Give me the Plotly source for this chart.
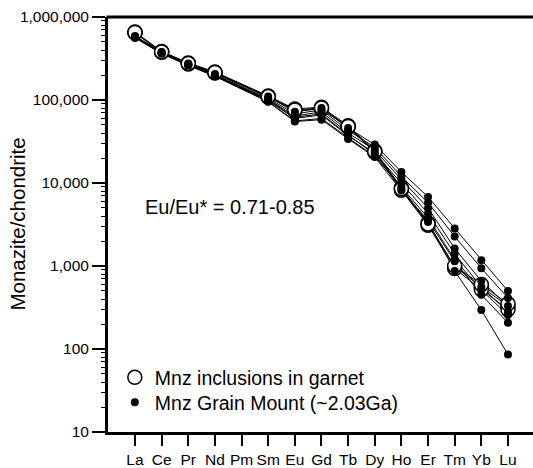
import plotly.graph_objects as go

# Rare earth elements, chondrite-normalised (Pm has no analysis)
elements = ["La", "Ce", "Pr", "Nd", "Pm", "Sm", "Eu", "Gd", "Tb", "Dy", "Ho", "Er", "Tm", "Yb", "Lu"]

# Monazite inclusions in garnet
inc_1 = [660000, 385000, 280000, 218000, None, 112000, 78000, 82000, 49000, 24500, 8800, 3300, 980, 560, 330]
inc_2 = [640000, 375000, 272000, 212000, None, 108000, 74000, 78000, 47000, 23500, 8200, 3100, 930, 520, 300]
inc_3 = [650000, 380000, 276000, 215000, None, 110000, 76000, 80000, 48000, 24000, 8500, 3200, 1000, 600, 350]

# Monazite grain mount (~2.03 Ga)
gm_1 = [590000, 380000, 275000, 205000, None, 110000, 72000, 80000, 46000, 29000, 13600, 6800, 2830, 1170, 500]
gm_2 = [580000, 375000, 272000, 200000, None, 105000, 68000, 76000, 43000, 27000, 12000, 5800, 2270, 940, 412]
gm_3 = [575000, 370000, 268000, 198000, None, 102000, 64000, 72000, 40000, 25000, 11000, 5000, 1630, 658, 330]
gm_4 = [570000, 368000, 265000, 196000, None, 98000, 60000, 66000, 37000, 23000, 10000, 4300, 1400, 560, 280]
gm_5 = [565000, 365000, 262000, 195000, None, 96000, 56000, 60000, 35000, 21000, 9000, 3800, 1200, 513, 257]
gm_6 = [560000, 362000, 260000, 193000, None, 95000, 55000, 58000, 34000, 20500, 8100, 3550, 1140, 450, 207]
gm_7 = [570000, 368000, 266000, 197000, None, 100000, 62000, 68000, 38000, 22000, 8500, 3400, 870, 295, 86]

inclusions = [inc_1, inc_2, inc_3]
grain_mount = [gm_1, gm_2, gm_3, gm_4, gm_5, gm_6, gm_7]

y_ticks = [10, 100, 1000, 10000, 100000, 1000000]
y_tick_text = ["10", "100", "1,000", "10,000", "100,000", "1,000,000"]
# minor log ticks (2..9 within each decade)
y_minor = [d * k for d in y_ticks[:-1] for k in range(2, 10)]

FONT = "Liberation Sans, Arial, Helvetica, sans-serif"
pos = list(range(len(elements)))

fig = go.Figure()

# connecting lines for every analysis (Pm gap bridged)
for series in inclusions + grain_mount:
    fig.add_trace(go.Scatter(
        x=pos, y=series, mode="lines", connectgaps=True,
        line=dict(color="black", width=1), showlegend=False, hoverinfo="skip"))


def flatten(group):
    xs, ys = [], []
    for series in group:
        for i, v in enumerate(series):
            if v is not None:
                xs.append(i)
                ys.append(v)
    return xs, ys


xi, yi = flatten(inclusions)
fig.add_trace(go.Scatter(
    x=xi, y=yi, mode="markers", name="Mnz inclusions in garnet", legend="legend",
    marker=dict(symbol="circle", size=14, color="white",
                line=dict(color="black", width=1.5))))

xg, yg = flatten(grain_mount)
fig.add_trace(go.Scatter(
    x=xg, y=yg, mode="markers", name="Mnz Grain Mount (~2.03Ga)", legend="legend2",
    marker=dict(symbol="circle", size=8, color="black",
                line=dict(color="black", width=0))))

legend_style = dict(xanchor="left", yanchor="middle", bgcolor="rgba(0,0,0,0)",
                    font=dict(size=19.5, family=FONT), itemsizing="trace")

fig.update_layout(
    width=533, height=468,
    margin=dict(l=108, r=0, t=17, b=33),
    paper_bgcolor="white", plot_bgcolor="white",
    font=dict(family=FONT, color="black", size=15.5),
    showlegend=True,
    legend=dict(x=0.016, y=0.131, **legend_style),
    legend2=dict(x=0.016, y=0.071, **legend_style),
    xaxis=dict(
        range=[-1.013, 14.94], tickmode="array", tickvals=pos, ticktext=elements,
        showgrid=False, zeroline=False,
        showline=True, linecolor="black", linewidth=3, mirror=False,
        ticks="outside", ticklen=11, tickwidth=2, tickcolor="black",
        tickfont=dict(size=15.5, family=FONT)),
    yaxis=dict(
        type="log", range=[1, 6], tickmode="array", tickvals=y_ticks, ticktext=y_tick_text,
        showgrid=False, zeroline=False,
        showline=True, linecolor="black", linewidth=3, mirror=False,
        ticks="outside", ticklen=13, tickwidth=1.5, tickcolor="black",
        minor=dict(tickmode="array", tickvals=y_minor, ticks="outside",
                   ticklen=4, tickwidth=1, tickcolor="black", showgrid=False),
        tickfont=dict(size=15.5, family=FONT)),
    shapes=[
        # top frame line running off the page edge
        dict(type="line", xref="paper", yref="paper", x0=-0.0035, x1=1.01, y0=1, y1=1,
             line=dict(color="black", width=3), layer="above"),
    ],
    annotations=[
        dict(text="Monazite/chondrite", xref="paper", yref="paper",
             x=-0.214, y=0.5, xanchor="center", yanchor="middle",
             textangle=-90, showarrow=False, font=dict(size=20.5, family=FONT)),
        dict(text="Eu/Eu* = 0.71-0.85", xref="paper", yref="paper",
             x=0.082, y=0.541, xanchor="left", yanchor="middle",
             showarrow=False, font=dict(size=20, family=FONT)),
    ],
)

# keep the page exactly figure-sized (no scrollbars)
page_css = ("document.documentElement.style.overflow='hidden';"
            "document.body.style.overflow='hidden';"
            "document.body.style.margin='0';")

fig.write_html("out.html", post_script=page_css)
